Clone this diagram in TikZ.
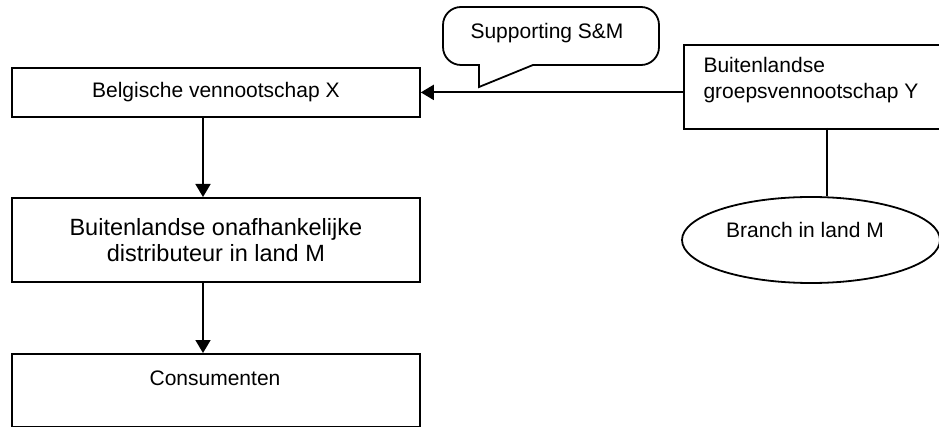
\documentclass[tikz,border=0pt]{standalone}
\usepackage{fontspec}
\setmainfont{Liberation Sans}
\usetikzlibrary{arrows.meta,shapes.geometric}
\begin{document}
\begin{tikzpicture}[x=1pt,y=-1pt,
  every node/.style={font=\fontsize{21}{26}\selectfont},
  boxnode/.style={draw,line width=1.8pt,minimum width=408pt,inner sep=0pt,anchor=north west},
  conn/.style={line width=1.8pt},
  arr/.style={conn,-{Triangle[length=13pt,width=15pt]}}]
\useasboundingbox (0,0) rectangle (939,427);
\clip (0,0) rectangle (939,427);
\fill[white] (0,0) rectangle (939,427);
% left column
\node[boxnode,minimum height=49pt] (X) at (11,67) {Belgische vennootschap X};
\node[boxnode,minimum height=84pt,align=center,font=\fontsize{23.5}{26}\selectfont] (D) at (11,197) {Buitenlandse onafhankelijke\\distributeur in land M};
\node[boxnode,minimum height=73pt] (C) at (11,353) {};
\node (Ct) at (215,378) {Consumenten};
\coordinate (ax) at (203,0);
\draw[arr] (X.south -| ax) -- (D.north -| ax);
\draw[arr] (D.south -| ax) -- (C.north -| ax);
% right part
\node[draw,line width=1.8pt,minimum width=280pt,minimum height=84pt,inner sep=0pt,anchor=north west] (Y) at (683,44) {};
\node[anchor=west,align=left] (Yt) at (700,80) {Buitenlandse\\groepsvennootschap Y};
\draw[arr] (X.east -| Y.west) -- (X.east);
\node[draw,ellipse,line width=1.8pt,minimum width=258pt,minimum height=86pt,inner sep=0pt] (E) at (811,240) {};
\node (Et) at (805,230) {Branch in land M};
\coordinate (yb) at (827,128);
\draw[conn] (yb) -- (yb |- E.north);
% callout
\draw[line width=1.8pt,fill=white] (461,7) -- (641,7) to[out=0,in=90] (659,25) -- (659,47) to[out=-90,in=0] (641,65)
  -- (533,65) -- (479,87) -- (479,65) -- (461,65) to[out=180,in=-90] (443,47) -- (443,25) to[out=90,in=180] cycle;
\node (S) at (547,33) {Supporting S\&M};
\end{tikzpicture}
\end{document}
